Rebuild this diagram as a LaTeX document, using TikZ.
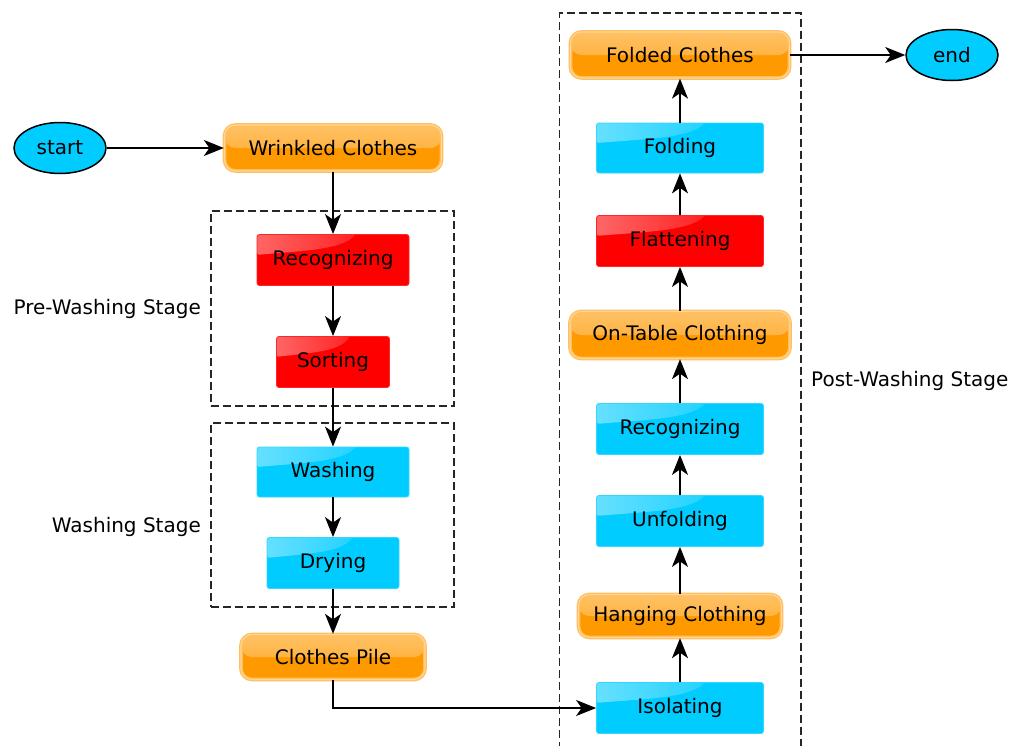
\documentclass[tikz,border=0pt]{standalone}
\usepackage{fontspec}
\setmainfont{DejaVu Sans}
\usetikzlibrary{arrows.meta,shapes.geometric,fadings,calc}

\definecolor{fcorange}{HTML}{FF9900}
\definecolor{fcorangelt}{HTML}{FFBF5C}
\definecolor{fcred}{HTML}{FF0000}
\definecolor{fcblue}{HTML}{00CCFF}
\definecolor{framegray}{HTML}{262626}

\tikzset{
  base/.style={font=\fontsize{20}{22}\selectfont, text=black, inner sep=0pt, align=center},
  % glossy highlight in the upper-left corner of a task box
  gloss/.style={path picture={
    \fill[white, fill opacity=0.4, path fading=east]
      let \p1=(path picture bounding box.north west),
          \p2=(path picture bounding box.south east) in
      (\x1,\y1) -- ({\x1+0.65*(\x2-\x1)},\y1)
      .. controls ({\x1+0.55*(\x2-\x1)},{\y1+0.3*(\y2-\y1)})
             and ({\x1+0.3*(\x2-\x1)},{\y1+0.32*(\y2-\y1)})
      .. (\x1,{\y1+0.4*(\y2-\y1)}) -- cycle;
  }},
  taskbox/.style={base, gloss, rounded corners=2.5pt, line width=0.8pt},
  redtask/.style={taskbox, fill=fcred, draw=fcred!85!white},
  bluetask/.style={taskbox, fill=fcblue, draw=fcblue!80!white},
  statebox/.style={base, rounded corners=11pt, fill=fcorange,
    draw=fcorangelt, double=white!60!fcorange, double distance=1.1pt, line width=1.3pt,
    path picture={
      \shade[top color=white!40!fcorange, bottom color=white!12!fcorange]
        (path picture bounding box.north west) rectangle (path picture bounding box.east);
    }},
  terminal/.style={base, ellipse, fill=fcblue, draw=black, line width=1.5pt,
    minimum width=92pt, minimum height=51pt},
  stageframe/.style={draw=framegray, line width=1.6pt, dash pattern=on 8pt off 4pt},
  stagelabel/.style={base},
  flow/.style={line width=1.7pt, draw=black,
    -{Stealth[length=20pt, width=16pt, inset=5.5pt]}},
}

\begin{document}
\begin{tikzpicture}[x=1pt, y=-1pt]
  \useasboundingbox (0,0) rectangle (1014,745);

  % stage frames
  \node[stageframe, minimum width=243pt, minimum height=195pt] (preframe) at (332.5,308.5) {};
  \node[stageframe, minimum width=243pt, minimum height=184pt] (washframe) at (332.5,515) {};
  \draw[stageframe] (559.5,750) -- (559.5,13) -- (801,13) -- (801,750);

  % stage labels
  \node[stagelabel, anchor=east] (prelabel) at (201,309) {Pre-Washing Stage};
  \node[stagelabel, anchor=east] (washlabel) at (201,527) {Washing Stage};
  \node[stagelabel, anchor=west] (postlabel) at (811,381) {Post-Washing Stage};

  % left column
  \node[terminal] (start) at (60,148) {start};
  \node[statebox, minimum width=217pt, minimum height=46pt] (wrinkled) at (333,148) {Wrinkled Clothes};
  \node[redtask, minimum width=152pt, minimum height=51pt] (recogA) at (333,260) {Recognizing};
  \node[redtask, minimum width=113pt, minimum height=51pt] (sorting) at (333,362) {Sorting};
  \node[bluetask, minimum width=152pt, minimum height=50pt] (washing) at (333,472) {Washing};
  \node[bluetask, minimum width=132pt, minimum height=51pt] (drying) at (333,563) {Drying};
  \node[statebox, minimum width=184pt, minimum height=45pt] (pile) at (333,657) {Clothes Pile};

  % right column
  \node[bluetask, minimum width=167pt, minimum height=51pt] (isolating) at (680,708) {Isolating};
  \node[statebox, minimum width=203pt, minimum height=43pt] (hanging) at (680,616) {Hanging Clothing};
  \node[bluetask, minimum width=167pt, minimum height=51pt] (unfolding) at (680,521) {Unfolding};
  \node[bluetask, minimum width=167pt, minimum height=51pt] (recogB) at (680,429) {Recognizing};
  \node[statebox, minimum width=220pt, minimum height=47pt] (ontable) at (680,335) {On-Table Clothing};
  \node[redtask, minimum width=167pt, minimum height=51pt] (flattening) at (680,241) {Flattening};
  \node[bluetask, minimum width=167pt, minimum height=50pt] (folding) at (680,148) {Folding};
  \node[statebox, minimum width=219pt, minimum height=46pt] (folded) at (680,55) {Folded Clothes};
  \node[terminal] (stop) at (952,55) {end};

  % connectors
  \draw[flow] (start) -- (wrinkled);
  \draw[flow] (wrinkled) -- (recogA);
  \draw[flow] (recogA) -- (sorting);
  \draw[flow] (sorting) -- (washing);
  \draw[flow] (washing) -- (drying);
  \draw[flow] (drying) -- (pile);
  \draw[flow] (pile.south) |- (isolating.west);
  \draw[flow] (isolating) -- (hanging);
  \draw[flow] (hanging) -- (unfolding);
  \draw[flow] (unfolding) -- (recogB);
  \draw[flow] (recogB) -- (ontable);
  \draw[flow] (ontable) -- (flattening);
  \draw[flow] (flattening) -- (folding);
  \draw[flow] (folding) -- (folded);
  \draw[flow] (folded) -- (stop);
\end{tikzpicture}
\end{document}
